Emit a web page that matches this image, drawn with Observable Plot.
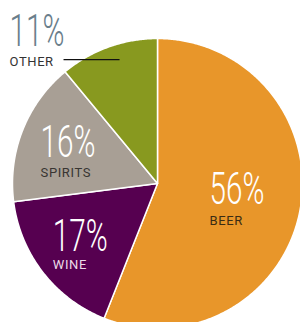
<!DOCTYPE html>
<html><head><meta charset="utf-8">
<script src="https://cdn.jsdelivr.net/npm/d3@7"></script>
<script src="https://cdn.jsdelivr.net/npm/@observablehq/plot@0.6"></script>
<style>body{margin:0;background:#fff} svg{display:block}</style>
</head><body><div id="chart"></div>
<script>
const categories = ["BEER", "WINE", "SPIRITS", "OTHER"];
const shares = [56, 17, 16, 11];
const colors = ["#E8962A", "#560050", "#A89F95", "#88991F"];
const pctLabels = ["56%", "17%", "16%", "11%"];

// layout
const W = 300, H = 322, CX = 157, CY = 183, R = 145;
const pctColor = {BEER: "#ffffff", WINE: "#ffffff", SPIRITS: "#ffffff", OTHER: "#6A7E8B"};
const nameColor = {BEER: "#3a2c14", WINE: "#ecdce8", SPIRITS: "#383532", OTHER: "#333333"};
const labelOffset = {BEER: [-33.5, 3.7, 21], WINE: [-36, 14, 18], SPIRITS: [-36, 6, 20], OTHER: [-118.5, -56, 20]};

const pie = d3.pie().sort(null).value(d => d)(shares);
const slicePts = [];
const labels = [];
pie.forEach((p, i) => {
  const cat = categories[i];
  slicePts.push({cat, x: 0, y: 0});
  const n = Math.ceil((p.endAngle - p.startAngle) / (Math.PI / 360));
  for (let k = 0; k <= n; k++) {
    const a = p.startAngle + (p.endAngle - p.startAngle) * k / n;
    slicePts.push({cat, x: R * Math.sin(a), y: R * Math.cos(a)});
  }
  slicePts.push({cat, x: 0, y: 0});
  const mid = (p.startAngle + p.endAngle) / 2;
  const ax = 0.6 * R * Math.sin(mid), ay = 0.6 * R * Math.cos(mid);
  const [dx, dy, gap] = labelOffset[cat];
  labels.push({cat, pct: pctLabels[i], ax, ay, x: ax + dx, y: ay - dy, y2: ay - dy - gap});
});
const other = labels.find(d => d.cat === "OTHER");
const leader = [{x1: other.ax - 64.5, x2: other.ax - 8.5, y: other.ay + 42}];

const marks = [
  Plot.line(slicePts, {x: "x", y: "y", z: "cat", fill: "cat", stroke: "white", strokeWidth: 1.5, strokeLinejoin: "round"}),
  Plot.link(leader, {x1: "x1", x2: "x2", y1: "y", y2: "y", stroke: "#111", strokeWidth: 1.3})
];
labels.forEach(l => {
  marks.push(Plot.text([l], {x: "x", y: "y", text: "pct", textAnchor: "start", lineAnchor: "bottom",
    fill: pctColor[l.cat], fontFamily: "Roboto", fontWeight: 300, fontSize: 45}));
  marks.push(Plot.text([l], {x: "x", y: "y2", text: "cat", textAnchor: "start", lineAnchor: "bottom",
    fill: nameColor[l.cat], fontFamily: "Roboto", fontWeight: 400, fontSize: 13, style: ""}));
});

const chart = Plot.plot({
  width: W, height: H, margin: 0,
  x: {domain: [-CX, W - CX], axis: null},
  y: {domain: [-(H - CY), CY], axis: null},
  color: {domain: categories, range: colors},
  marks
});
chart.querySelectorAll("text").forEach(t => {
  if (t.textContent.includes("%")) {
    const tr = t.getAttribute("transform") || "";
    const x = +(t.getAttribute("x") || 0), y = +(t.getAttribute("y") || 0);
    t.setAttribute("x", 0); t.setAttribute("y", 0);
    t.setAttribute("transform", `${tr} translate(${x},${y}) scale(0.66,1)`);
  } else {
    t.setAttribute("letter-spacing", "0.6");
  }
});
document.getElementById("chart").appendChild(chart);
</script>
</body></html>
